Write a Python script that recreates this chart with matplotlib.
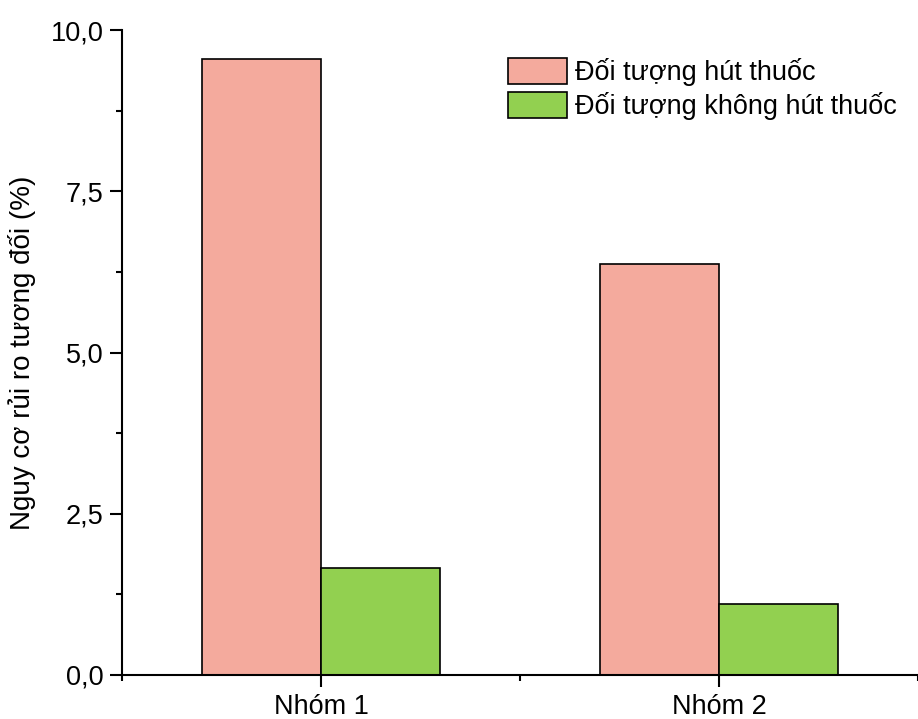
import matplotlib.pyplot as plt
import numpy as np
from matplotlib.ticker import FixedLocator, FuncFormatter, MultipleLocator

plt.rcParams["font.family"] = ["Liberation Sans", "DejaVu Sans"]

groups = ["Nhóm 1", "Nhóm 2"]
series_names = ["Đối tượng hút thuốc", "Đối tượng không hút thuốc"]
smoker = [9.55, 6.37]
non_smoker = [1.66, 1.10]
colors = ["#F4AA9D", "#92D050"]

x = np.arange(1, len(groups) + 1)
width = 0.3

fig = plt.figure(figsize=(9.18, 7.19), dpi=100)
ax = fig.add_axes([122 / 918, 1 - 675 / 719, 1 - 122 / 918, (675 - 30) / 719])

ax.bar(x - width / 2, smoker, width, color=colors[0], edgecolor="black",
       linewidth=1.2, label=series_names[0])
ax.bar(x + width / 2, non_smoker, width, color=colors[1], edgecolor="black",
       linewidth=1.2, label=series_names[1])

ax.set_xlim(0.5, 2.5)
ax.set_ylim(0, 10)
ax.set_xticks(x)
ax.set_xticklabels(groups)
ax.xaxis.set_minor_locator(FixedLocator([0.5, 1.5, 2.5]))
ax.yaxis.set_major_locator(MultipleLocator(2.5))
ax.yaxis.set_minor_locator(MultipleLocator(1.25))
ax.yaxis.set_major_formatter(FuncFormatter(lambda v, _: f"{v:.1f}".replace(".", ",")))

for side in ["top", "right"]:
    ax.spines[side].set_visible(False)
for side in ["left", "bottom"]:
    ax.spines[side].set_linewidth(1.5)

ax.tick_params(which="major", length=8.5, width=1.5, labelsize=19.5, direction="out", pad=5)
ax.tick_params(which="minor", length=4, width=1.5, direction="out")
ax.set_ylabel("Nguy cơ rủi ro tương đối (%)", fontsize=20, labelpad=10)

ax.legend(loc="upper left", bbox_to_anchor=(0.471, 0.973), frameon=False,
          fontsize=19.5, handlelength=2.2, handleheight=1.1, handletextpad=0.3,
          labelspacing=0.2, borderaxespad=0)

plt.savefig("out.png", dpi=100)
plt.close()
